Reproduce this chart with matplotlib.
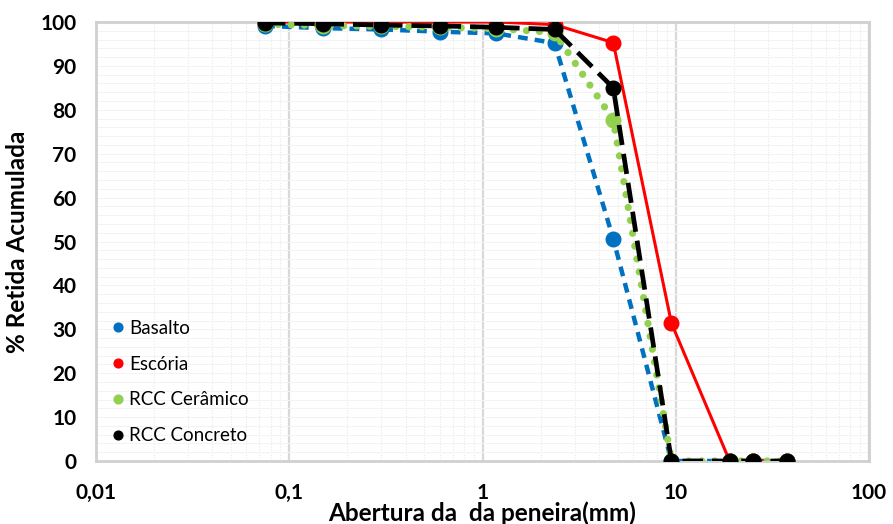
import numpy as np
import matplotlib.pyplot as plt
from matplotlib.ticker import FixedLocator, FuncFormatter, LogLocator, MultipleLocator, NullFormatter

# sieve openings (mm) and cumulative retained percentage
peneira = [0.075, 0.15, 0.3, 0.6, 1.18, 2.36, 4.75, 9.5, 19, 25, 37.5]
basalto = [99.1, 98.6, 98.3, 97.8, 97.4, 95.2, 50.6, 0, 0, 0, 0]
escoria = [100, 100, 100, 100, 100, 99.4, 95.3, 31.4, 0, 0, 0]
rcc_ceramico = [99.5, 99.2, 99.0, 98.8, 98.5, 97.6, 77.7, 0, 0, 0, 0]
rcc_concreto = [99.8, 99.6, 99.3, 99.1, 98.8, 98.3, 85.0, 0, 0, 0, 0]

x_ticks = [0.01, 0.1, 1, 10, 100]
x_labels = ['0,01', '0,1', '1', '10', '100']

plt.rcParams['font.family'] = ['Lato', 'DejaVu Sans']

fig = plt.figure(figsize=(8.93, 5.24), dpi=100)
ax = fig.add_axes([96 / 893, 63 / 524, 773 / 893, 439 / 524])

ms = 10.5
ax.plot(peneira, basalto, color='#0070C0', lw=3.2, ls=(0, (2.2, 1.6)),
        marker='o', ms=ms, label='Basalto', zorder=3)
ax.plot(peneira, escoria, color='#FF0000', lw=2.2, ls='-',
        marker='o', ms=ms, label='Escória', zorder=4)
ax.plot(peneira, rcc_ceramico, color='#92D050', lw=5.2, ls=(0, (0.01, 1.8)),
        dash_capstyle='round', marker='o', ms=ms, label='RCC Cerâmico', zorder=5)
ax.plot(peneira, rcc_concreto, color='black', lw=3.4, ls=(0, (4.3, 1.9)),
        marker='o', ms=ms, label='RCC Concreto', zorder=6)

ax.set_xscale('log')
ax.set_xlim(0.01, 100)
ax.set_ylim(0, 100)
ax.xaxis.set_major_locator(FixedLocator(x_ticks))
ax.xaxis.set_major_formatter(FuncFormatter(lambda v, p: x_labels[x_ticks.index(v)] if v in x_ticks else ''))
ax.xaxis.set_minor_locator(LogLocator(base=10, subs=np.arange(2, 10)))
ax.xaxis.set_minor_formatter(NullFormatter())
ax.yaxis.set_major_locator(MultipleLocator(10))
ax.yaxis.set_minor_locator(MultipleLocator(2))

ax.grid(axis='x', which='major', color='#D9D9D9', lw=1.6)
ax.grid(axis='x', which='minor', color='#E8E8E8', lw=0.8, ls=(0, (1, 1.5)))
ax.grid(axis='y', which='both', color='#F3F3F3', lw=0.7)
ax.set_axisbelow(True)

for s in ax.spines.values():
    s.set_color('#D0D0D0')
    s.set_linewidth(2)
ax.tick_params(which='both', length=0)
ax.tick_params(axis='x', pad=16, labelsize=15)
ax.tick_params(axis='y', pad=14, labelsize=15)
for lab in ax.get_xticklabels() + ax.get_yticklabels():
    lab.set_fontweight('bold')

ax.set_xlabel('Abertura da  da peneira(mm)', fontsize=17.5, fontweight='bold', labelpad=-1)
ax.set_ylabel('% Retida Acumulada', fontsize=17.5, fontweight='bold', labelpad=8)

leg = ax.legend(loc='lower left', bbox_to_anchor=(0.0, 0.0), frameon=False,
                fontsize=13.5, labelspacing=1.0, handlelength=0.5, handletextpad=0.35,
                markerscale=0.6)
for h in leg.legend_handles:
    h.set_linestyle('None')

fig.savefig('out.png', dpi=100)
